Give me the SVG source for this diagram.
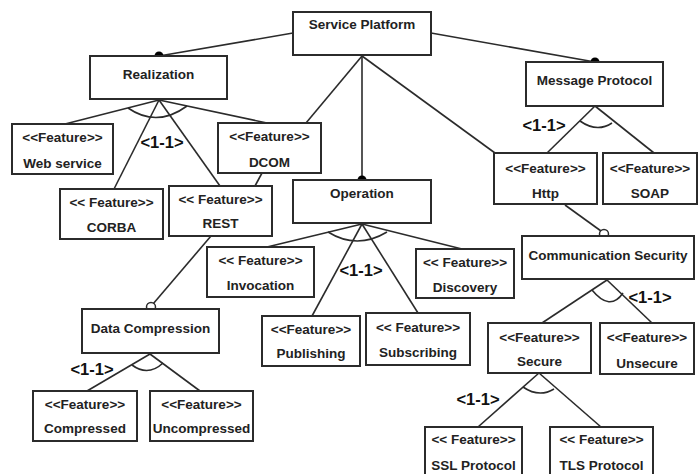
<svg xmlns="http://www.w3.org/2000/svg" width="699" height="474" viewBox="0 0 699 474">
  <style>
    .box { fill: #ffffff; stroke: #2b2b2b; stroke-width: 2; }
    .ln { fill: none; stroke: #2b2b2b; stroke-width: 1.6; }
    .t { font-family: "Liberation Sans", Arial, sans-serif; font-size: 13.5px; font-weight: bold; fill: #222; text-anchor: middle; }
    .card { font-family: "Liberation Sans", Arial, sans-serif; font-size: 16.5px; font-weight: bold; fill: #111; text-anchor: middle; }
    .dot { fill: #000; }
    .opt { fill: #fff; stroke: #2b2b2b; stroke-width: 1.5; }
  </style>
  <rect width="699" height="474" fill="#ffffff"/>

  <!-- connectors -->
  <g id="connectors">
    <!-- Service Platform to mandatory children -->
    <line class="ln" x1="293" y1="33" x2="159" y2="56"/>
    <line class="ln" x1="431" y1="33" x2="595" y2="62"/>
    <line class="ln" x1="362" y1="56" x2="362" y2="180"/>
    <line class="ln" x1="362" y1="56" x2="306" y2="123"/>
    <line class="ln" x1="362" y1="56" x2="495" y2="153"/>
    <!-- Realization alternatives -->
    <line class="ln" x1="159" y1="100" x2="65" y2="124"/>
    <line class="ln" x1="159" y1="100" x2="114" y2="189"/>
    <line class="ln" x1="159" y1="100" x2="220" y2="186"/>
    <line class="ln" x1="159" y1="100" x2="267" y2="123"/>
    <path class="ln" d="M128,108 Q157,128 187,106"/>
    <line class="ln" x1="262" y1="173" x2="255" y2="186"/>
    <!-- REST to Data Compression (optional) -->
    <line class="ln" x1="211" y1="236" x2="153" y2="304"/>
    <!-- Data Compression alternatives -->
    <line class="ln" x1="150" y1="354" x2="87" y2="391"/>
    <line class="ln" x1="150" y1="354" x2="200" y2="391"/>
    <path class="ln" d="M132,365 Q148,377 163,363"/>
    <!-- Operation alternatives -->
    <line class="ln" x1="362" y1="224" x2="267" y2="247"/>
    <line class="ln" x1="362" y1="224" x2="312" y2="316"/>
    <line class="ln" x1="362" y1="224" x2="418" y2="313"/>
    <line class="ln" x1="362" y1="224" x2="462" y2="249"/>
    <path class="ln" d="M328,232 Q357,250 387,232"/>
    <!-- Message Protocol alternatives -->
    <line class="ln" x1="595" y1="106" x2="547" y2="153"/>
    <line class="ln" x1="595" y1="106" x2="654" y2="153"/>
    <path class="ln" d="M580,121 Q597,133 612,123"/>
    <!-- Http to Communication Security (optional) -->
    <line class="ln" x1="565" y1="205" x2="601" y2="231"/>
    <!-- Communication Security alternatives -->
    <line class="ln" x1="607" y1="280" x2="542" y2="323"/>
    <line class="ln" x1="607" y1="280" x2="652" y2="323"/>
    <path class="ln" d="M592,290 Q610,312 623,293"/>
    <!-- Secure alternatives -->
    <line class="ln" x1="539" y1="373" x2="478" y2="427"/>
    <line class="ln" x1="539" y1="373" x2="601" y2="427"/>
    <path class="ln" d="M523,387 Q539,398 554,389"/>
    <!-- mandatory / optional markers -->
    <circle class="dot" cx="159" cy="56" r="4.5"/>
    <circle class="dot" cx="595" cy="62" r="4.5"/>
    <circle class="dot" cx="362" cy="180" r="4.5"/>
    <circle class="opt" cx="151" cy="307" r="4.5"/>
    <circle class="opt" cx="604" cy="234" r="4.5"/>
  </g>

  <!-- cardinality labels -->
  <g id="cardinalities">
    <text class="card" x="162" y="148">&lt;1-1&gt;</text>
    <text class="card" x="544" y="131">&lt;1-1&gt;</text>
    <text class="card" x="361" y="276">&lt;1-1&gt;</text>
    <text class="card" x="92" y="375">&lt;1-1&gt;</text>
    <text class="card" x="650" y="303">&lt;1-1&gt;</text>
    <text class="card" x="478" y="405">&lt;1-1&gt;</text>
  </g>

  <!-- nodes -->
  <g id="service-platform">
    <rect class="box" x="293" y="12" width="138" height="43"/>
    <text class="t" x="362" y="29">Service Platform</text>
  </g>
  <g id="realization">
    <rect class="box" x="90" y="56" width="137" height="43"/>
    <text class="t" x="158.5" y="79">Realization</text>
  </g>
  <g id="message-protocol">
    <rect class="box" x="526" y="62" width="137" height="44"/>
    <text class="t" x="594.5" y="85">Message Protocol</text>
  </g>
  <g id="web-service">
    <rect class="box" x="12" y="124" width="101" height="50"/>
    <text class="t" x="62.5" y="142">&lt;&lt;Feature&gt;&gt;</text>
    <text class="t" x="62.5" y="168">Web service</text>
  </g>
  <g id="dcom">
    <rect class="box" x="218" y="123" width="103" height="50"/>
    <text class="t" x="269.5" y="141">&lt;&lt;Feature&gt;&gt;</text>
    <text class="t" x="269.5" y="167">DCOM</text>
  </g>
  <g id="corba">
    <rect class="box" x="60" y="189" width="103" height="50"/>
    <text class="t" x="111.5" y="207">&lt;&lt; Feature&gt;&gt;</text>
    <text class="t" x="111.5" y="232">CORBA</text>
  </g>
  <g id="rest">
    <rect class="box" x="169" y="186" width="103" height="50"/>
    <text class="t" x="220.5" y="204">&lt;&lt; Feature&gt;&gt;</text>
    <text class="t" x="220.5" y="228">REST</text>
  </g>
  <g id="operation">
    <rect class="box" x="293" y="180" width="138" height="43"/>
    <text class="t" x="362" y="198">Operation</text>
  </g>
  <g id="http">
    <rect class="box" x="494" y="153" width="103" height="51"/>
    <text class="t" x="545.5" y="173">&lt;&lt;Feature&gt;&gt;</text>
    <text class="t" x="545.5" y="198">Http</text>
  </g>
  <g id="soap">
    <rect class="box" x="603" y="153" width="94" height="51"/>
    <text class="t" x="650" y="173">&lt;&lt;Feature&gt;&gt;</text>
    <text class="t" x="650" y="198">SOAP</text>
  </g>
  <g id="invocation">
    <rect class="box" x="207" y="247" width="107" height="50"/>
    <text class="t" x="260.5" y="265">&lt;&lt; Feature&gt;&gt;</text>
    <text class="t" x="260.5" y="290">Invocation</text>
  </g>
  <g id="discovery">
    <rect class="box" x="416" y="249" width="98" height="49"/>
    <text class="t" x="465" y="267">&lt;&lt; Feature&gt;&gt;</text>
    <text class="t" x="465" y="292">Discovery</text>
  </g>
  <g id="publishing">
    <rect class="box" x="262" y="316" width="98" height="50"/>
    <text class="t" x="311" y="334">&lt;&lt;Feature&gt;&gt;</text>
    <text class="t" x="311" y="358">Publishing</text>
  </g>
  <g id="subscribing">
    <rect class="box" x="366" y="313" width="104" height="52"/>
    <text class="t" x="418" y="332">&lt;&lt; Feature&gt;&gt;</text>
    <text class="t" x="418" y="357">Subscribing</text>
  </g>
  <g id="communication-security">
    <rect class="box" x="522" y="236" width="172" height="43"/>
    <text class="t" x="608" y="260">Communication Security</text>
  </g>
  <g id="secure">
    <rect class="box" x="488" y="323" width="103" height="50"/>
    <text class="t" x="539.5" y="342">&lt;&lt;Feature&gt;&gt;</text>
    <text class="t" x="539.5" y="366">Secure</text>
  </g>
  <g id="unsecure">
    <rect class="box" x="600" y="323" width="94" height="51"/>
    <text class="t" x="647" y="342">&lt;&lt;Feature&gt;&gt;</text>
    <text class="t" x="647" y="368">Unsecure</text>
  </g>
  <g id="ssl-protocol">
    <rect class="box" x="425" y="427" width="97" height="52"/>
    <text class="t" x="473.5" y="444">&lt;&lt; Feature&gt;&gt;</text>
    <text class="t" x="473.5" y="470">SSL Protocol</text>
  </g>
  <g id="tls-protocol">
    <rect class="box" x="550" y="427" width="103" height="52"/>
    <text class="t" x="601.5" y="444">&lt;&lt; Feature&gt;&gt;</text>
    <text class="t" x="601.5" y="470">TLS Protocol</text>
  </g>
  <g id="data-compression">
    <rect class="box" x="82" y="309" width="137" height="44"/>
    <text class="t" x="150.5" y="333">Data Compression</text>
  </g>
  <g id="compressed">
    <rect class="box" x="33" y="391" width="104" height="50"/>
    <text class="t" x="85" y="409">&lt;&lt;Feature&gt;&gt;</text>
    <text class="t" x="85" y="433">Compressed</text>
  </g>
  <g id="uncompressed">
    <rect class="box" x="150" y="391" width="103" height="50"/>
    <text class="t" x="201.5" y="409">&lt;&lt;Feature&gt;&gt;</text>
    <text class="t" x="201.5" y="433">Uncompressed</text>
  </g>
</svg>
